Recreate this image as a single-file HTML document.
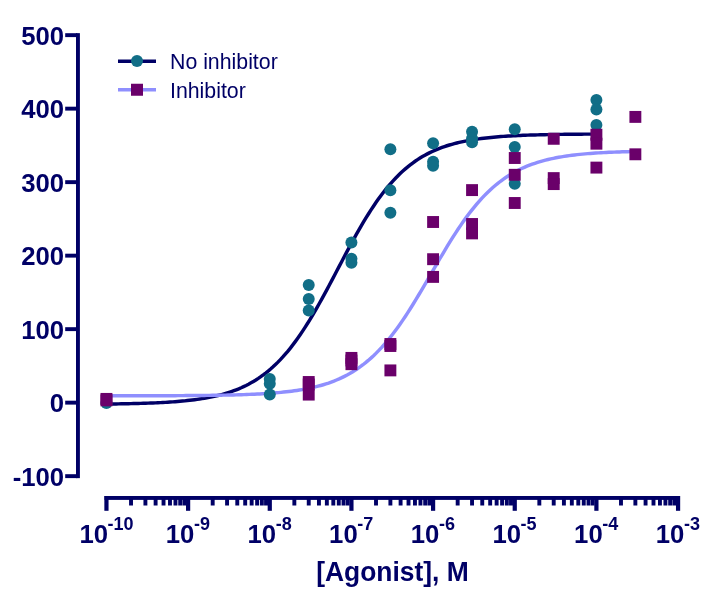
<!DOCTYPE html>
<html lang="en"><head><meta charset="utf-8"><title>Dose-response: agonist with and without inhibitor</title>
<style>
html,body{margin:0;padding:0;background:#fff;}
body{width:720px;height:600px;overflow:hidden;}
svg{display:block;font-family:"Liberation Sans",Arial,Helvetica,sans-serif;}
.ax{fill:#000066;}
.tl{font-weight:bold;font-size:25.7px;fill:#000066;}
.sup{font-weight:bold;font-size:18px;fill:#000066;}
.lg{font-size:21.3px;fill:#000066;}
</style></head><body>
<svg width="720" height="600" viewBox="0 0 720 600">
<rect width="720" height="600" fill="#fff"/>
<g class="ax">
<rect x="76.00" y="33.15" width="3.9" height="445.00"/>
<rect x="65.2" y="33.20" width="12" height="3.9"/>
<rect x="65.2" y="106.70" width="12" height="3.9"/>
<rect x="65.2" y="180.20" width="12" height="3.9"/>
<rect x="65.2" y="253.70" width="12" height="3.9"/>
<rect x="65.2" y="327.20" width="12" height="3.9"/>
<rect x="65.2" y="400.70" width="12" height="3.9"/>
<rect x="65.2" y="474.20" width="12" height="3.9"/>
<rect x="104.50" y="496.00" width="575.52" height="3.9"/>
<rect x="104.35" y="496.00" width="4.2" height="14.80"/>
<rect x="129.08" y="496.00" width="3.9" height="9.50"/>
<rect x="143.46" y="496.00" width="3.9" height="9.50"/>
<rect x="153.66" y="496.00" width="3.9" height="9.50"/>
<rect x="161.58" y="496.00" width="3.9" height="9.50"/>
<rect x="168.04" y="496.00" width="3.9" height="9.50"/>
<rect x="173.51" y="496.00" width="3.9" height="9.50"/>
<rect x="178.25" y="496.00" width="3.9" height="9.50"/>
<rect x="182.42" y="496.00" width="3.9" height="9.50"/>
<rect x="186.01" y="496.00" width="4.2" height="14.80"/>
<rect x="210.74" y="496.00" width="3.9" height="9.50"/>
<rect x="225.12" y="496.00" width="3.9" height="9.50"/>
<rect x="235.32" y="496.00" width="3.9" height="9.50"/>
<rect x="243.24" y="496.00" width="3.9" height="9.50"/>
<rect x="249.70" y="496.00" width="3.9" height="9.50"/>
<rect x="255.17" y="496.00" width="3.9" height="9.50"/>
<rect x="259.91" y="496.00" width="3.9" height="9.50"/>
<rect x="264.08" y="496.00" width="3.9" height="9.50"/>
<rect x="267.67" y="496.00" width="4.2" height="14.80"/>
<rect x="292.40" y="496.00" width="3.9" height="9.50"/>
<rect x="306.78" y="496.00" width="3.9" height="9.50"/>
<rect x="316.98" y="496.00" width="3.9" height="9.50"/>
<rect x="324.90" y="496.00" width="3.9" height="9.50"/>
<rect x="331.36" y="496.00" width="3.9" height="9.50"/>
<rect x="336.83" y="496.00" width="3.9" height="9.50"/>
<rect x="341.57" y="496.00" width="3.9" height="9.50"/>
<rect x="345.74" y="496.00" width="3.9" height="9.50"/>
<rect x="349.33" y="496.00" width="4.2" height="14.80"/>
<rect x="374.06" y="496.00" width="3.9" height="9.50"/>
<rect x="388.44" y="496.00" width="3.9" height="9.50"/>
<rect x="398.64" y="496.00" width="3.9" height="9.50"/>
<rect x="406.56" y="496.00" width="3.9" height="9.50"/>
<rect x="413.02" y="496.00" width="3.9" height="9.50"/>
<rect x="418.49" y="496.00" width="3.9" height="9.50"/>
<rect x="423.23" y="496.00" width="3.9" height="9.50"/>
<rect x="427.40" y="496.00" width="3.9" height="9.50"/>
<rect x="430.99" y="496.00" width="4.2" height="14.80"/>
<rect x="455.72" y="496.00" width="3.9" height="9.50"/>
<rect x="470.10" y="496.00" width="3.9" height="9.50"/>
<rect x="480.30" y="496.00" width="3.9" height="9.50"/>
<rect x="488.22" y="496.00" width="3.9" height="9.50"/>
<rect x="494.68" y="496.00" width="3.9" height="9.50"/>
<rect x="500.15" y="496.00" width="3.9" height="9.50"/>
<rect x="504.89" y="496.00" width="3.9" height="9.50"/>
<rect x="509.06" y="496.00" width="3.9" height="9.50"/>
<rect x="512.65" y="496.00" width="4.2" height="14.80"/>
<rect x="537.38" y="496.00" width="3.9" height="9.50"/>
<rect x="551.76" y="496.00" width="3.9" height="9.50"/>
<rect x="561.96" y="496.00" width="3.9" height="9.50"/>
<rect x="569.88" y="496.00" width="3.9" height="9.50"/>
<rect x="576.34" y="496.00" width="3.9" height="9.50"/>
<rect x="581.81" y="496.00" width="3.9" height="9.50"/>
<rect x="586.55" y="496.00" width="3.9" height="9.50"/>
<rect x="590.72" y="496.00" width="3.9" height="9.50"/>
<rect x="594.31" y="496.00" width="4.2" height="14.80"/>
<rect x="619.04" y="496.00" width="3.9" height="9.50"/>
<rect x="633.42" y="496.00" width="3.9" height="9.50"/>
<rect x="643.62" y="496.00" width="3.9" height="9.50"/>
<rect x="651.54" y="496.00" width="3.9" height="9.50"/>
<rect x="658.00" y="496.00" width="3.9" height="9.50"/>
<rect x="663.47" y="496.00" width="3.9" height="9.50"/>
<rect x="668.21" y="496.00" width="3.9" height="9.50"/>
<rect x="672.38" y="496.00" width="3.9" height="9.50"/>
<rect x="675.97" y="496.00" width="4.2" height="14.80"/>
</g>
<text class="tl" x="64.1" y="44.90" text-anchor="end">500</text>
<text class="tl" x="64.1" y="118.40" text-anchor="end">400</text>
<text class="tl" x="64.1" y="191.90" text-anchor="end">300</text>
<text class="tl" x="64.1" y="265.40" text-anchor="end">200</text>
<text class="tl" x="64.1" y="338.90" text-anchor="end">100</text>
<text class="tl" x="64.1" y="412.40" text-anchor="end">0</text>
<text class="tl" x="64.1" y="485.90" text-anchor="end">-100</text>
<text class="tl" x="79.4" y="543">10<tspan class="sup" dx="-0.4" dy="-13.5">-10</tspan></text>
<text class="tl" x="165.8" y="543">10<tspan class="sup" dx="-0.4" dy="-13.5">-9</tspan></text>
<text class="tl" x="247.5" y="543">10<tspan class="sup" dx="-0.4" dy="-13.5">-8</tspan></text>
<text class="tl" x="329.1" y="543">10<tspan class="sup" dx="-0.4" dy="-13.5">-7</tspan></text>
<text class="tl" x="410.8" y="543">10<tspan class="sup" dx="-0.4" dy="-13.5">-6</tspan></text>
<text class="tl" x="492.4" y="543">10<tspan class="sup" dx="-0.4" dy="-13.5">-5</tspan></text>
<text class="tl" x="574.1" y="543">10<tspan class="sup" dx="-0.4" dy="-13.5">-4</tspan></text>
<text class="tl" x="655.8" y="543">10<tspan class="sup" dx="-0.4" dy="-13.5">-3</tspan></text>
<text class="tl" style="font-size:26.9px" transform="translate(392.4 580.6) scale(0.982 1)" x="0" y="0" text-anchor="middle">[Agonist], M</text>
<path d="M106.45,404.03 L108.90,404.00 L111.35,403.97 L113.80,403.94 L116.25,403.91 L118.70,403.87 L121.15,403.83 L123.60,403.79 L126.05,403.74 L128.50,403.69 L130.95,403.64 L133.40,403.58 L135.85,403.52 L138.30,403.46 L140.75,403.39 L143.20,403.31 L145.65,403.23 L148.10,403.15 L150.55,403.06 L153.00,402.96 L155.45,402.85 L157.90,402.74 L160.35,402.62 L162.80,402.49 L165.25,402.36 L167.69,402.21 L170.14,402.05 L172.59,401.88 L175.04,401.70 L177.49,401.51 L179.94,401.30 L182.39,401.08 L184.84,400.85 L187.29,400.59 L189.74,400.32 L192.19,400.03 L194.64,399.72 L197.09,399.39 L199.54,399.04 L201.99,398.66 L204.44,398.26 L206.89,397.83 L209.34,397.37 L211.79,396.88 L214.24,396.36 L216.69,395.80 L219.14,395.20 L221.59,394.57 L224.04,393.89 L226.49,393.16 L228.94,392.39 L231.39,391.57 L233.84,390.70 L236.29,389.77 L238.74,388.79 L241.19,387.74 L243.64,386.62 L246.09,385.44 L248.54,384.18 L250.99,382.85 L253.44,381.43 L255.89,379.94 L258.34,378.36 L260.79,376.68 L263.24,374.91 L265.69,373.05 L268.14,371.08 L270.59,369.01 L273.04,366.83 L275.49,364.53 L277.94,362.13 L280.39,359.60 L282.84,356.96 L285.29,354.19 L287.74,351.31 L290.19,348.29 L292.63,345.16 L295.08,341.90 L297.53,338.52 L299.98,335.01 L302.43,331.39 L304.88,327.65 L307.33,323.79 L309.78,319.83 L312.23,315.76 L314.68,311.59 L317.13,307.34 L319.58,303.00 L322.03,298.58 L324.48,294.10 L326.93,289.56 L329.38,284.97 L331.83,280.34 L334.28,275.69 L336.73,271.03 L339.18,266.35 L341.63,261.69 L344.08,257.04 L346.53,252.42 L348.98,247.84 L351.43,243.31 L353.88,238.84 L356.33,234.44 L358.78,230.12 L361.23,225.88 L363.68,221.73 L366.13,217.69 L368.58,213.74 L371.03,209.91 L373.48,206.19 L375.93,202.59 L378.38,199.11 L380.83,195.75 L383.28,192.52 L385.73,189.41 L388.18,186.42 L390.63,183.56 L393.08,180.82 L395.53,178.20 L397.98,175.70 L400.43,173.31 L402.88,171.04 L405.33,168.88 L407.78,166.83 L410.23,164.89 L412.68,163.04 L415.12,161.29 L417.57,159.64 L420.02,158.07 L422.47,156.59 L424.92,155.20 L427.37,153.88 L429.82,152.64 L432.27,151.47 L434.72,150.36 L437.17,149.33 L439.62,148.35 L442.07,147.43 L444.52,146.57 L446.97,145.76 L449.42,145.00 L451.87,144.29 L454.32,143.62 L456.77,142.99 L459.22,142.40 L461.67,141.85 L464.12,141.33 L466.57,140.85 L469.02,140.40 L471.47,139.97 L473.92,139.57 L476.37,139.20 L478.82,138.85 L481.27,138.53 L483.72,138.22 L486.17,137.94 L488.62,137.67 L491.07,137.42 L493.52,137.19 L495.97,136.97 L498.42,136.77 L500.87,136.58 L503.32,136.40 L505.77,136.23 L508.22,136.08 L510.67,135.93 L513.12,135.80 L515.57,135.67 L518.02,135.55 L520.47,135.44 L522.92,135.34 L525.37,135.24 L527.82,135.15 L530.27,135.07 L532.72,134.99 L535.16,134.91 L537.61,134.85 L540.06,134.78 L542.51,134.72 L544.96,134.67 L547.41,134.61 L549.86,134.57 L552.31,134.52 L554.76,134.48 L557.21,134.44 L559.66,134.40 L562.11,134.37 L564.56,134.33 L567.01,134.30 L569.46,134.28 L571.91,134.25 L574.36,134.23 L576.81,134.20 L579.26,134.18 L581.71,134.16 L584.16,134.14 L586.61,134.13 L589.06,134.11 L591.51,134.10 L593.96,134.08 L596.41,134.07" fill="none" stroke="#000066" stroke-width="3.45"/>
<path d="M106.45,395.81 L109.09,395.81 L111.74,395.81 L114.38,395.80 L117.03,395.80 L119.67,395.80 L122.32,395.80 L124.96,395.79 L127.61,395.79 L130.25,395.79 L132.90,395.78 L135.54,395.78 L138.19,395.77 L140.83,395.77 L143.47,395.76 L146.12,395.76 L148.76,395.75 L151.41,395.74 L154.05,395.74 L156.70,395.73 L159.34,395.72 L161.99,395.71 L164.63,395.70 L167.28,395.69 L169.92,395.68 L172.57,395.67 L175.21,395.66 L177.85,395.64 L180.50,395.63 L183.14,395.61 L185.79,395.59 L188.43,395.58 L191.08,395.56 L193.72,395.53 L196.37,395.51 L199.01,395.49 L201.66,395.46 L204.30,395.43 L206.95,395.40 L209.59,395.37 L212.23,395.33 L214.88,395.29 L217.52,395.25 L220.17,395.20 L222.81,395.15 L225.46,395.10 L228.10,395.04 L230.75,394.98 L233.39,394.92 L236.04,394.85 L238.68,394.77 L241.33,394.69 L243.97,394.60 L246.61,394.50 L249.26,394.40 L251.90,394.29 L254.55,394.17 L257.19,394.04 L259.84,393.91 L262.48,393.76 L265.13,393.60 L267.77,393.43 L270.42,393.24 L273.06,393.04 L275.70,392.83 L278.35,392.60 L280.99,392.36 L283.64,392.09 L286.28,391.80 L288.93,391.50 L291.57,391.17 L294.22,390.81 L296.86,390.43 L299.51,390.03 L302.15,389.59 L304.80,389.12 L307.44,388.61 L310.08,388.07 L312.73,387.49 L315.37,386.87 L318.02,386.20 L320.66,385.49 L323.31,384.72 L325.95,383.90 L328.60,383.03 L331.24,382.09 L333.89,381.09 L336.53,380.02 L339.18,378.88 L341.82,377.67 L344.46,376.37 L347.11,375.00 L349.75,373.53 L352.40,371.97 L355.04,370.31 L357.69,368.56 L360.33,366.70 L362.98,364.73 L365.62,362.65 L368.27,360.45 L370.91,358.13 L373.56,355.69 L376.20,353.12 L378.84,350.43 L381.49,347.60 L384.13,344.65 L386.78,341.56 L389.42,338.35 L392.07,335.00 L394.71,331.53 L397.36,327.93 L400.00,324.21 L402.65,320.37 L405.29,316.42 L407.94,312.36 L410.58,308.21 L413.22,303.97 L415.87,299.65 L418.51,295.25 L421.16,290.80 L423.80,286.31 L426.45,281.77 L429.09,277.21 L431.74,272.65 L434.38,268.08 L437.03,263.53 L439.67,259.00 L442.32,254.52 L444.96,250.08 L447.60,245.71 L450.25,241.41 L452.89,237.19 L455.54,233.06 L458.18,229.03 L460.83,225.11 L463.47,221.31 L466.12,217.62 L468.76,214.05 L471.41,210.61 L474.05,207.30 L476.70,204.12 L479.34,201.07 L481.98,198.15 L484.63,195.37 L487.27,192.71 L489.92,190.17 L492.56,187.77 L495.21,185.48 L497.85,183.31 L500.50,181.26 L503.14,179.32 L505.79,177.49 L508.43,175.76 L511.08,174.14 L513.72,172.60 L516.36,171.16 L519.01,169.81 L521.65,168.53 L524.30,167.34 L526.94,166.22 L529.59,165.17 L532.23,164.19 L534.88,163.27 L537.52,162.41 L540.17,161.61 L542.81,160.85 L545.46,160.15 L548.10,159.50 L550.74,158.89 L553.39,158.32 L556.03,157.79 L558.68,157.29 L561.32,156.83 L563.97,156.40 L566.61,156.00 L569.26,155.63 L571.90,155.28 L574.55,154.96 L577.19,154.66 L579.83,154.38 L582.48,154.12 L585.12,153.88 L587.77,153.65 L590.41,153.44 L593.06,153.25 L595.70,153.07 L598.35,152.90 L600.99,152.74 L603.64,152.60 L606.28,152.46 L608.93,152.34 L611.57,152.22 L614.21,152.11 L616.86,152.01 L619.50,151.92 L622.15,151.83 L624.79,151.75 L627.44,151.68 L630.08,151.61 L632.73,151.54 L635.37,151.48" fill="none" stroke="#8f8ffe" stroke-width="3.45"/>
<g fill="#116e87">
<circle cx="106.45" cy="402.90" r="6.0"/>
<circle cx="269.77" cy="378.90" r="6.0"/>
<circle cx="269.77" cy="383.70" r="6.0"/>
<circle cx="269.77" cy="394.60" r="6.0"/>
<circle cx="308.73" cy="285.00" r="6.0"/>
<circle cx="308.73" cy="299.00" r="6.0"/>
<circle cx="308.73" cy="310.60" r="6.0"/>
<circle cx="351.43" cy="242.50" r="6.0"/>
<circle cx="351.43" cy="258.70" r="6.0"/>
<circle cx="351.43" cy="262.80" r="6.0"/>
<circle cx="390.39" cy="149.20" r="6.0"/>
<circle cx="390.39" cy="190.30" r="6.0"/>
<circle cx="390.39" cy="212.80" r="6.0"/>
<circle cx="433.09" cy="143.30" r="6.0"/>
<circle cx="433.09" cy="161.80" r="6.0"/>
<circle cx="433.09" cy="165.70" r="6.0"/>
<circle cx="472.05" cy="131.80" r="6.0"/>
<circle cx="472.05" cy="138.50" r="6.0"/>
<circle cx="472.05" cy="142.30" r="6.0"/>
<circle cx="514.75" cy="129.20" r="6.0"/>
<circle cx="514.75" cy="146.90" r="6.0"/>
<circle cx="514.75" cy="183.70" r="6.0"/>
<circle cx="596.41" cy="100.10" r="6.0"/>
<circle cx="596.41" cy="109.40" r="6.0"/>
<circle cx="596.41" cy="125.10" r="6.0"/>
</g>
<g fill="#6a006a">
<rect x="100.50" y="392.95" width="11.9" height="11.9"/>
<rect x="100.50" y="394.45" width="11.9" height="11.9"/>
<rect x="302.78" y="376.05" width="11.9" height="11.9"/>
<rect x="302.78" y="378.55" width="11.9" height="11.9"/>
<rect x="302.78" y="388.65" width="11.9" height="11.9"/>
<rect x="345.48" y="351.95" width="11.9" height="11.9"/>
<rect x="345.48" y="354.55" width="11.9" height="11.9"/>
<rect x="345.48" y="358.25" width="11.9" height="11.9"/>
<rect x="384.44" y="338.05" width="11.9" height="11.9"/>
<rect x="384.44" y="340.05" width="11.9" height="11.9"/>
<rect x="384.44" y="364.45" width="11.9" height="11.9"/>
<rect x="427.14" y="216.05" width="11.9" height="11.9"/>
<rect x="427.14" y="253.25" width="11.9" height="11.9"/>
<rect x="427.14" y="270.95" width="11.9" height="11.9"/>
<rect x="466.10" y="184.15" width="11.9" height="11.9"/>
<rect x="466.10" y="218.05" width="11.9" height="11.9"/>
<rect x="466.10" y="227.45" width="11.9" height="11.9"/>
<rect x="508.80" y="152.05" width="11.9" height="11.9"/>
<rect x="508.80" y="168.85" width="11.9" height="11.9"/>
<rect x="508.80" y="197.05" width="11.9" height="11.9"/>
<rect x="547.76" y="132.85" width="11.9" height="11.9"/>
<rect x="547.76" y="172.15" width="11.9" height="11.9"/>
<rect x="547.76" y="178.15" width="11.9" height="11.9"/>
<rect x="590.46" y="128.75" width="11.9" height="11.9"/>
<rect x="590.46" y="137.75" width="11.9" height="11.9"/>
<rect x="590.46" y="161.65" width="11.9" height="11.9"/>
<rect x="629.42" y="110.95" width="11.9" height="11.9"/>
<rect x="629.42" y="148.35" width="11.9" height="11.9"/>
</g>
<line x1="118" y1="61.15" x2="156" y2="61.15" stroke="#000066" stroke-width="3.45"/>
<circle cx="137" cy="61.0" r="6.0" fill="#116e87"/>
<line x1="118" y1="89.75" x2="156" y2="89.75" stroke="#8f8ffe" stroke-width="3.45"/>
<rect x="131" y="83.75" width="12" height="12" fill="#6a006a"/>
<text class="lg" x="170.0" y="68.75">No inhibitor</text>
<text class="lg" x="170.0" y="97.8">Inhibitor</text>
</svg></body></html>
